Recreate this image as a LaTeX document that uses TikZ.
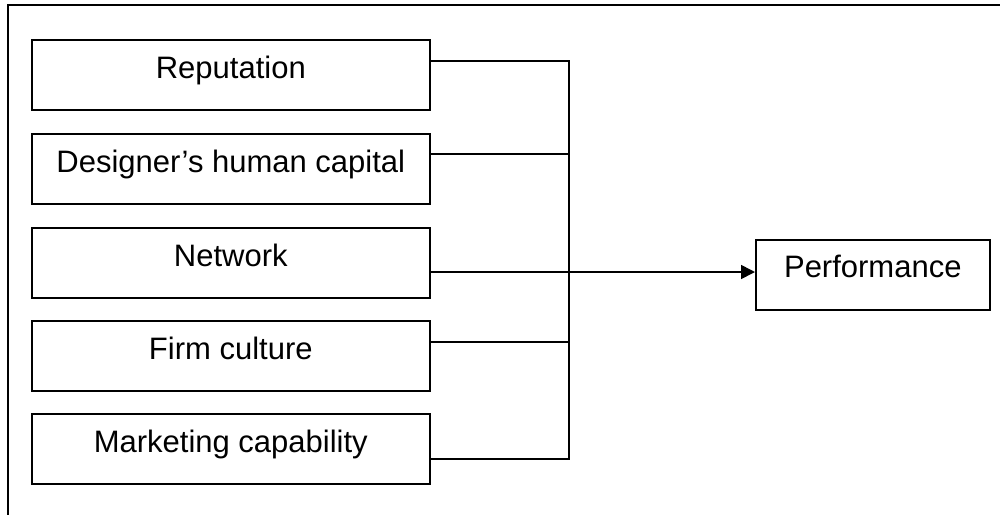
\documentclass[tikz,border=0pt]{standalone}
\usepackage{fontspec}
\setmainfont{Liberation Sans}
\usetikzlibrary{arrows.meta,calc}
\tikzset{
  factor/.style={draw, line width=1.2pt, rectangle, inner xsep=0pt, inner ysep=0pt,
    minimum width=298.5pt, text height=29.25pt, text depth=23.25pt, align=center,
    font=\fontsize{23.25pt}{28pt}\selectfont, anchor=north west},
  outcome/.style={factor, minimum width=175.5pt, text height=28.5pt, text depth=24pt},
  link/.style={line width=1.2pt},
  frame/.style={line width=1.6pt}
}
\begin{document}
\begin{tikzpicture}[x=0.75pt,y=-0.75pt]
\useasboundingbox (0,0) rectangle (1000,515);
\draw[frame] (1000,5) -- (8,5) -- (8,515);
\node[factor] (rep) at (31,39) {Reputation};
\node[factor] (des) at (31,133) {Designer’s human capital};
\node[factor] (net) at (31,227) {Network};
\node[factor] (firm) at (31,320) {Firm culture};
\node[factor] (mkt) at (31,413) {Marketing capability};
\node[outcome] (perf) at (755,239) {Performance};
\coordinate (s1) at ($(rep.north east)+(0,22)$);
\coordinate (s2) at ($(des.north east)+(0,21)$);
\coordinate (s3) at ($(net.north east)+(0,45)$);
\coordinate (s4) at ($(firm.north east)+(0,22)$);
\coordinate (s5) at ($(mkt.north east)+(0,46)$);
\coordinate (jt) at (569,61);
\coordinate (jb) at (569,459);
\draw[link] (s1) -- (jt |- s1) -- (jb |- s5) -- (s5);
\draw[link] (s2) -- (jt |- s2);
\draw[link] (s4) -- (jt |- s4);
\draw[link,-{Triangle[length=10.5pt,width=10.5pt]}] (s3) -- (perf.west |- s3);
\end{tikzpicture}
\end{document}
